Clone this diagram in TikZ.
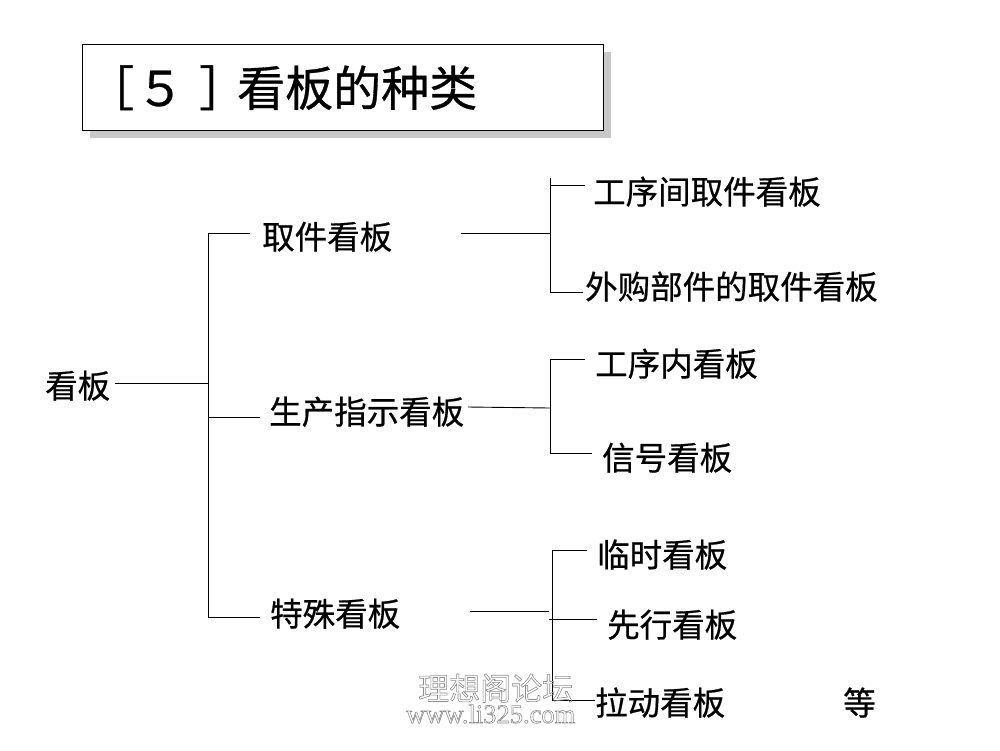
\documentclass[tikz,border=0pt]{standalone}
\usepackage{fontspec}
\setmainfont{Noto Sans CJK SC}
\newfontfamily\cjk[FakeBold=0.6]{Noto Sans CJK SC}
\newfontfamily\cjkwm{Noto Sans CJK SC}
\newfontfamily\wmserif{Liberation Serif}
\definecolor{shadowgray}{RGB}{200,200,200}
\begin{document}
\begin{tikzpicture}[x=1pt,y=-1pt,
  lbl/.style={anchor=base west,inner sep=0pt,font=\cjk\fontsize{32.5}{34}\selectfont},
  ttl/.style={anchor=base west,inner sep=0pt,font=\cjk\fontsize{48}{50}\selectfont},
  conn/.style={line width=0.9pt,black}]
\useasboundingbox[fill=white] (0,0) rectangle (1000,750);
% title box with shadow
\fill[shadowgray] (90,52) rectangle (611,138);
\draw[line width=1pt,fill=white] (82,44) rectangle (603,130);
\node[ttl] (title) at (94,106) {\kern-8pt［\kern2pt５\kern15pt］\kern-10pt看板的种类};
% nodes
\node[lbl] (kb) at (45,398) {看板};
\node[lbl] (qj) at (262,249) {取件看板};
\node[lbl] (sc) at (269,424) {生产指示看板};
\node[lbl] (ts) at (270,626) {特殊看板};
\node[lbl] (a1) at (593,204) {工序间取件看板};
\node[lbl] (a2) at (585,299) {外购部件的取件看板};
\node[lbl] (b1) at (595,376) {工序内看板};
\node[lbl] (b2) at (602,470) {信号看板};
\node[lbl] (c1) at (597,567) {临时看板};
\node[lbl] (c2) at (607,637) {先行看板};
\node[lbl] (c3) at (595,715) {拉动看板};
\node[lbl] (deng) at (843,715) {等};
% junction coordinates
\coordinate (r0) at (115,383);
\coordinate (rj) at (208,383);
\coordinate (t1) at (208,233);
\coordinate (t2) at (208,417);
\coordinate (t3) at (208,617);
\coordinate (e1) at (250,233);
\coordinate (e2) at (260,417);
\coordinate (e3) at (260,617);
% group 1
\coordinate (q0) at (461,233);
\coordinate (qj1) at (550,233);
\coordinate (qtop) at (550,178);
\coordinate (qa1) at (550,185);
\coordinate (qa1e) at (585,185);
\coordinate (qa2) at (550,292);
\coordinate (qa2e) at (583,292);
% group 2
\coordinate (s0) at (468,407);
\coordinate (sj) at (550,408);
\coordinate (sb1) at (550,359);
\coordinate (sb1e) at (585,359);
\coordinate (sb2) at (550,453);
\coordinate (sb2e) at (592,453);
% group 3
\coordinate (u0) at (470,611);
\coordinate (uj) at (549,611);
\coordinate (uc1) at (552,550);
\coordinate (uc1e) at (587,550);
\coordinate (uc2) at (549,619);
\coordinate (uc2e) at (597,619);
\coordinate (uc3) at (552,700);
\coordinate (uc3e) at (595,700);
% connectors
\draw[conn] (r0) -- (rj);
\draw[conn] (e1) -- (t1) -- (t3) -- (e3);
\draw[conn] (t2) -- (e2);
\draw[conn] (q0) -- (qj1);
\draw[conn] (qtop) -- (qa2) -- (qa2e);
\draw[conn] (qa1) -- (qa1e);
\draw[conn] (s0) -- (sj);
\draw[conn] (sb1e) -- (sb1) -- (sb2) -- (sb2e);
\draw[conn] (u0) -- (uj);
\draw[conn] (uc1e) -- (uc1) -- (uc3) -- (uc3e);
\draw[conn] (uc2) -- (uc2e);
% watermark (outlined text)
\node[anchor=base west,inner sep=0pt] (wm1) at (418,700)
  {\special{pdf:code 1 Tr 0.6 w 0.55 G}\cjkwm\fontsize{31}{33}\selectfont 理想阁论坛\special{pdf:code 0 Tr 0 G}};
\node[anchor=base west,inner sep=0pt] (wm2) at (406,723)
  {\special{pdf:code 1 Tr 0.6 w 0.55 G}\wmserif\fontsize{26.5}{28}\selectfont www.li325.com\special{pdf:code 0 Tr 0 G}};
\end{tikzpicture}
\end{document}
